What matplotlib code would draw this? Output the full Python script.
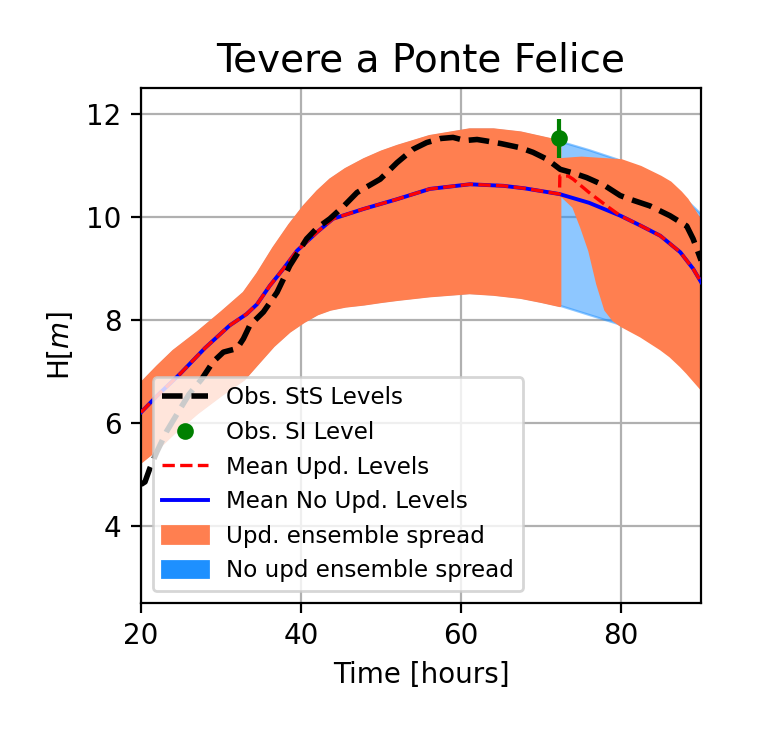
import numpy as np
import matplotlib.pyplot as plt
import matplotlib.patches as mpatches

# ensemble spread before the update (same for both runs)
t_pre = [20.0, 22.0, 24.0, 27.0, 30.0, 32.8, 34.5, 36.5, 38.5, 40.3, 42.0, 43.6, 45.5,
         47.8, 50.0, 52.0, 56.0, 61.0, 64.0, 67.4, 70.0, 72.3]
up_pre = [6.78, 7.10, 7.40, 7.76, 8.15, 8.53, 8.90, 9.40, 9.85, 10.21, 10.50, 10.73, 10.93,
          11.12, 11.27, 11.38, 11.57, 11.70, 11.70, 11.64, 11.55, 11.47]
lo_pre = [5.25, 5.50, 5.80, 6.20, 6.55, 6.85, 7.15, 7.50, 7.78, 7.97, 8.12, 8.21, 8.27,
          8.31, 8.36, 8.40, 8.47, 8.53, 8.50, 8.44, 8.36, 8.28]

# spread after the update, updated run
t_upd = [72.3, 74.0, 75.0, 76.0, 77.0, 78.0, 79.0, 80.0, 82.4, 84.9, 86.1, 87.4, 88.2, 90.0]
up_upd = [11.12, 11.14, 11.15, 11.14, 11.13, 11.12, 11.11, 11.10, 10.97, 10.78, 10.67, 10.48,
          10.34, 9.90]
lo_upd = [10.45, 10.20, 9.80, 9.35, 8.70, 8.20, 8.00, 7.89, 7.69, 7.44, 7.30, 7.11, 6.98, 6.66]

# spread after the update, no update run
t_noupd = [72.3, 76.0, 79.5, 84.0, 87.0, 90.0]
up_noupd = [11.47, 11.30, 11.12, 10.80, 10.50, 10.05]
lo_noupd = [8.28, 8.10, 7.93, 7.65, 7.30, 6.80]

# ensemble means
t_mean = [20.0, 22.0, 24.9, 28.0, 31.1, 33.2, 34.5, 36.1, 37.8, 39.5, 42.0, 44.0, 47.8,
          52.0, 56.1, 61.1, 65.3, 68.0, 72.3]
mean_pre = [6.20, 6.52, 6.95, 7.45, 7.89, 8.11, 8.30, 8.66, 8.99, 9.34, 9.70, 9.96, 10.15,
            10.34, 10.54, 10.63, 10.60, 10.55, 10.44]
t_mean_noupd = [76.0, 79.9, 82.4, 84.9, 87.4, 89.0, 90.0]
mean_noupd = [10.27, 10.02, 9.83, 9.63, 9.31, 8.99, 8.73]
t_mean_upd = [72.35, 73.4, 74.0, 76.0, 78.2, 79.9, 82.4, 84.9, 87.4, 89.0, 90.0]
mean_upd = [10.79, 10.79, 10.73, 10.47, 10.21, 10.02, 9.83, 9.63, 9.31, 8.99, 8.73]

# observed levels
t_obs = [20.0, 20.5, 21.1, 22.0, 23.2, 24.9, 26.0, 27.6, 29.0, 30.3, 32.0, 32.8, 33.6,
         35.3, 37.0, 38.6, 40.7, 42.0, 43.6, 45.3, 47.0, 49.9, 52.0, 54.0, 55.7, 57.5,
         59.0, 60.5, 62.0, 63.2, 65.0, 67.4, 69.0, 70.7, 72.4, 74.0, 75.7, 78.0, 79.9,
         81.1, 83.6, 86.1, 88.2, 89.0, 90.0]
h_obs = [4.80, 4.85, 5.11, 5.44, 5.83, 6.27, 6.55, 6.85, 7.18, 7.37, 7.44, 7.63, 7.89,
         8.15, 8.53, 9.05, 9.57, 9.78, 9.96, 10.20, 10.47, 10.73, 11.05, 11.31, 11.44, 11.52,
         11.54, 11.48, 11.50, 11.47, 11.42, 11.34, 11.25, 11.12, 10.92, 10.85, 10.76, 10.60, 10.41,
         10.34, 10.21, 10.02, 9.82, 9.57, 9.15]

t_si = 72.3
h_si = 11.52
err_si = 0.37

fig = plt.figure(figsize=(3.895, 3.685), dpi=200)
ax = fig.add_axes([0.181, 0.182, 0.719, 0.6986])

ax.fill_between(t_pre + t_noupd, lo_pre + lo_noupd, up_pre + up_noupd,
                color='dodgerblue', alpha=0.5, lw=0.8, zorder=1)
ax.fill_between(t_pre + t_upd, lo_pre + lo_upd, up_pre + up_upd,
                facecolor='coral', edgecolor='coral', lw=1.0, zorder=2)

ax.plot(t_mean + t_mean_noupd, mean_pre + mean_noupd, 'b-', lw=1.4, zorder=3)
ax.plot(t_mean + t_mean_upd, mean_pre + mean_upd, 'r--', lw=1.2, zorder=4)
ax.plot(t_obs, h_obs, 'k--', lw=2, zorder=5)
ax.errorbar([t_si], [h_si], yerr=[err_si], fmt='none', ecolor='green', elinewidth=1.5, zorder=6)
ax.plot([t_si], [h_si], 'o', color='green', ms=5, zorder=7)

handles = [
    plt.Line2D([], [], color='k', ls='--', lw=2),
    plt.Line2D([], [], color='green', marker='o', ls='none', ms=5),
    plt.Line2D([], [], color='r', ls='--', lw=1.2),
    plt.Line2D([], [], color='b', ls='-', lw=1.4),
    mpatches.Patch(color='coral'),
    mpatches.Patch(color='dodgerblue'),
]
labels = ['Obs. StS Levels', 'Obs. SI Level', 'Mean Upd. Levels', 'Mean No Upd. Levels',
          'Upd. ensemble spread', 'No upd ensemble spread']
ax.legend(handles, labels, loc='lower left', fontsize=8.3)

ax.set_xlim(20, 90)
ax.set_ylim(2.5, 12.5)
ax.set_xticks([20, 40, 60, 80])
ax.set_yticks([4, 6, 8, 10, 12])
ax.tick_params(labelsize=10)
ax.grid(True, color='#b0b0b0', lw=0.8)
ax.set_axisbelow(True)
ax.set_xlabel('Time [hours]', fontsize=10)
ax.set_ylabel('H[$m$]', fontsize=10)
ax.set_title('Tevere a Ponte Felice', fontsize=14)

fig.savefig('out.png', dpi=200)
